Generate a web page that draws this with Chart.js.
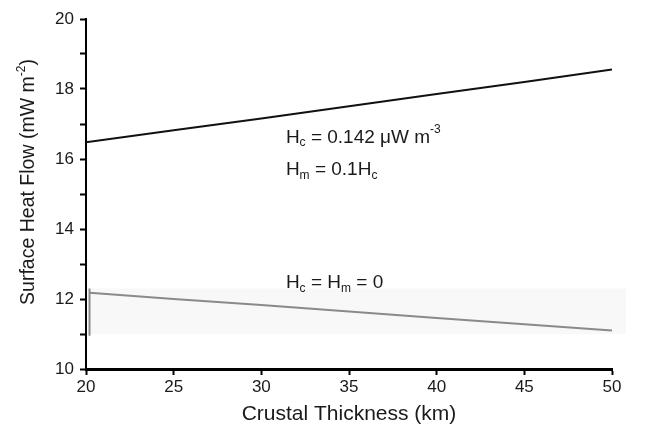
<!DOCTYPE html>
<html>
<head>
<meta charset="utf-8">
<script src="https://cdn.jsdelivr.net/npm/chart.js@4"></script>
<style>
  html, body { margin: 0; padding: 0; background: #fff; }
  #wrap { width: 648px; height: 431px; }
</style>
</head>
<body>
<div id="wrap"><canvas id="heatChart" width="648" height="431"></canvas></div>
<script>
// crustal thickness (km)
const thickness = [20, 25, 30, 35, 40, 45, 50];
// surface heat flow, Hc = 0.142, Hm = 0.1Hc
const flowRadiogenic = [16.48, 16.82, 17.16, 17.51, 17.86, 18.2, 18.56];
// surface heat flow, Hc = Hm = 0
const thicknessZero = [20.2, 25, 30, 35, 40, 45, 50];
const flowZero = [12.18, 12.0, 11.83, 11.64, 11.46, 11.28, 11.1];
// scan artefact near the left end of the lower curve
const markX = [20.2, 20.2];
const markY = [10.95, 12.3];

const xTicks = [20, 25, 30, 35, 40, 45, 50];
const yTicks = [10, 12, 14, 16, 18, 20];

const FONT = "'Liberation Sans', Arial, sans-serif";
const INK = "#1a1a1a";

function pts(xs, ys) {
    return xs.map((x, i) => ({ x: x, y: ys[i] }));
}

// text with subscripts / superscripts, parts: [text, mode]
function drawRich(ctx, parts, x, y, size) {
    let cx = x;
    parts.forEach(function (p) {
        const mode = p[1];
        const fs = mode ? Math.round(size * 0.62) : size;
        ctx.font = fs + "px " + FONT;
        let dy = 0;
        if (mode === "sub") dy = size * 0.28;
        if (mode === "sup") dy = -size * 0.38;
        ctx.fillText(p[0], cx, y + dy);
        cx += ctx.measureText(p[0]).width;
    });
    return cx - x;
}

function richWidth(ctx, parts, size) {
    let w = 0;
    parts.forEach(function (p) {
        ctx.font = (p[1] ? Math.round(size * 0.62) : size) + "px " + FONT;
        w += ctx.measureText(p[0]).width;
    });
    return w;
}

const annotations = {
    id: "annotations",
    beforeDatasetsDraw(chart) {
        const { ctx, scales } = chart;
        // faint grey band behind the lower curve (scan background)
        ctx.save();
        ctx.fillStyle = "#f8f8f8";
        const x0 = scales.x.getPixelForValue(20.2);
        const x1 = scales.x.getPixelForValue(50.8);
        const y0 = scales.y.getPixelForValue(12.3);
        const y1 = scales.y.getPixelForValue(11.0);
        ctx.fillRect(x0, y0, x1 - x0, y1 - y0);
        ctx.restore();
    },
    afterDraw(chart) {
        const { ctx, scales } = chart;
        ctx.save();
        ctx.fillStyle = INK;
        ctx.textBaseline = "middle";
        const ax = scales.x.getPixelForValue(31.4);
        drawRich(ctx, [["H"], ["c", "sub"], [" = 0.142 \u03bcW m"], ["-3", "sup"]],
            ax, scales.y.getPixelForValue(16.62), 19);
        drawRich(ctx, [["H"], ["m", "sub"], [" = 0.1H"], ["c", "sub"]],
            ax, scales.y.getPixelForValue(15.68), 19);
        drawRich(ctx, [["H"], ["c", "sub"], [" = H"], ["m", "sub"], [" = 0"]],
            ax, scales.y.getPixelForValue(12.45), 19);

        // y axis title with superscript
        const cy = (chart.chartArea.top + chart.chartArea.bottom) / 2 - 12;
        ctx.translate(29, cy);
        ctx.rotate(-Math.PI / 2);
        const parts = [["Surface Heat Flow (mW m"], ["-2", "sup"], [")"]];
        const w = richWidth(ctx, parts, 19.5);
        drawRich(ctx, parts, -w / 2, 0, 19.5);
        ctx.restore();
    }
};

const ctx = document.getElementById("heatChart").getContext("2d");

new Chart(ctx, {
    type: "scatter",
    data: {
        datasets: [
            {
                data: pts(thickness, flowRadiogenic),
                showLine: true,
                borderColor: "#111",
                borderWidth: 2,
                pointRadius: 0,
                tension: 0
            },
            {
                data: pts(thicknessZero, flowZero),
                showLine: true,
                borderColor: "#8a8a8a",
                borderWidth: 2,
                pointRadius: 0,
                tension: 0
            },
            {
                data: pts(markX, markY),
                showLine: true,
                borderColor: "#8a8a8a",
                borderWidth: 2,
                pointRadius: 0
            }
        ]
    },
    options: {
        responsive: false,
        animation: false,
        layout: { padding: { top: 19, right: 36, left: 0, bottom: 0 } },
        plugins: {
            legend: { display: false },
            tooltip: { enabled: false }
        },
        scales: {
            x: {
                type: "linear",
                min: 20,
                max: 50,
                afterBuildTicks(axis) {
                    axis.ticks = xTicks.map(v => ({ value: v }));
                },
                afterFit(axis) { axis.height = 62; },
                border: { color: "#000", width: 3 },
                grid: { drawOnChartArea: false, drawTicks: true, tickLength: 6, tickWidth: 2, tickColor: "#000" },
                ticks: {
                    color: INK,
                    padding: 2,
                    maxRotation: 0,
                    font: { family: FONT, size: 17 }
                },
                title: {
                    display: true,
                    text: "Crustal Thickness (km)",
                    color: INK,
                    padding: { top: 2 },
                    font: { family: FONT, size: 21 }
                }
            },
            y: {
                type: "linear",
                min: 10,
                max: 20,
                ticks: {
                    stepSize: 1,
                    color: INK,
                    padding: 6,
                    font: { family: FONT, size: 17 },
                    callback: function (v) {
                        return yTicks.includes(v) ? String(v) : "";
                    }
                },
                afterFit(axis) { axis.width = 86; },
                border: { color: "#000", width: 2 },
                grid: { drawOnChartArea: false, drawTicks: true, tickLength: 6, tickWidth: 2, tickColor: "#000" }
            }
        }
    },
    plugins: [annotations]
});
</script>
</body>
</html>
